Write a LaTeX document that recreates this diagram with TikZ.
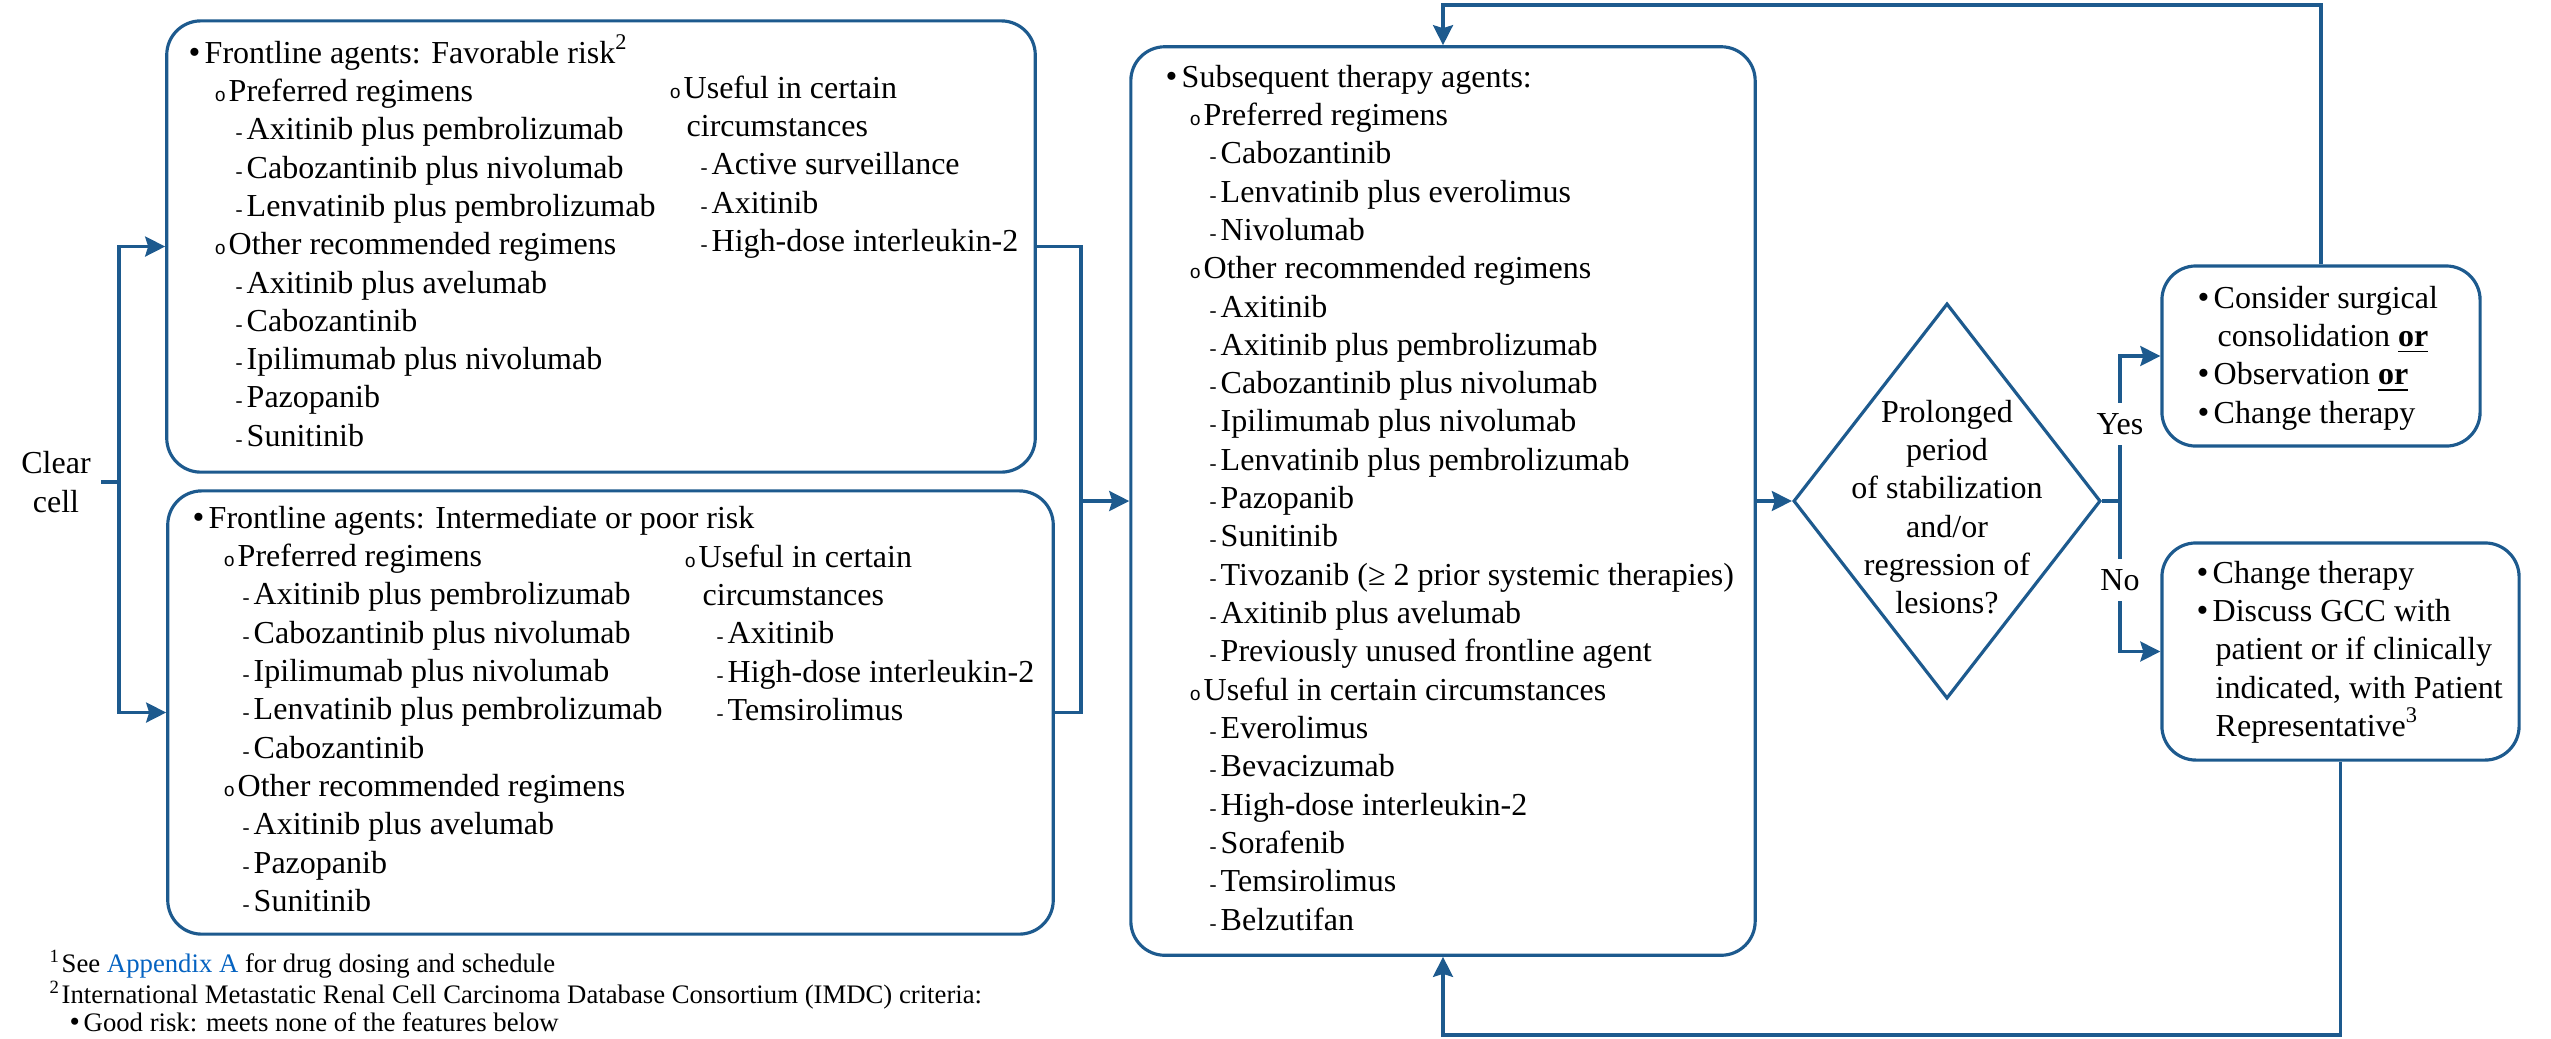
\documentclass[tikz,border=0pt]{standalone}
\usepackage{fontspec}
\setmainfont{Liberation Serif}
\newfontfamily\monofam{Liberation Mono}
\usetikzlibrary{arrows.meta,shapes.geometric}

\definecolor{flow}{HTML}{1D5A8E}
\definecolor{linkblue}{HTML}{0563C1}

% list markers for the three outline levels
\newcommand\bulA{\kern-0.01cm{\fontsize{9.6}{9.6}\selectfont •}}
\newcommand\bulB{{\monofam\fontsize{5.4}{5.4}\selectfont o}}
\newcommand\bulC{{\fontsize{6}{6}\selectfont -}}

% one outline row: optional indent, marker box, text
\newcommand\ptA[2][0cm]{\hspace*{#1}\makebox[0.15cm][l]{\bulA}#2}
\newcommand\ptB[2][0.27cm]{\hspace*{#1}\makebox[0.14cm][l]{\bulB}#2}
\newcommand\ptC[2][0.47cm]{\hspace*{#1}\makebox[0.11cm][l]{\bulC}#2}
\newcommand\ptN[2][0.41cm]{\hspace*{#1}#2}

% a column of outline rows, baseline at its first row
\newcommand\colbox[1]{\parbox[t]{9cm}{\fontsize{9.1}{10.9}\selectfont #1}}

\begin{document}
\begin{tikzpicture}[x=0.01cm, y=-0.01cm,
  font=\fontsize{9.1}{10.9}\selectfont,
  flowline/.style={draw=flow, line width=0.9pt},
  arr/.style={flowline, -{Stealth[length=0.2cm, width=0.2cm, inset=0.03cm]}},
  panel/.style={draw=flow, line width=0.9pt, rounded corners=0.34cm, inner sep=0},
  txt/.style={anchor=base west, inner sep=0}]

\useasboundingbox (0,0) rectangle (2551,1038);

% ---------- boxes ----------
\node[panel, minimum width=8.68cm, minimum height=4.51cm] (fav) at (601,246.5) {};
\node[panel, minimum width=8.85cm, minimum height=4.43cm] (poor) at (610.5,712.5) {};
\node[panel, minimum width=6.24cm, minimum height=9.08cm] (subs) at (1443,501) {};
\node[diamond, draw=flow, line width=0.9pt, inner sep=0,
      minimum width=3.07cm, minimum height=3.95cm] (dec) at (1947,501) {};
\node[panel, minimum width=3.18cm, minimum height=1.80cm] (yesbox) at (2321,356) {};
\node[panel, minimum width=3.57cm, minimum height=2.17cm] (nobox) at (2340.5,651.5) {};

\node[align=center, inner xsep=0.1cm, inner ysep=0] (clear) at (56,482) {Clear\\cell};

% ---------- box texts ----------
\node[txt] (favL) at (189,63) {\colbox{%
\ptA{Frontline agents: Favorable risk\textsuperscript{2}}\\
\ptB[0.25cm]{Preferred regimens}\\
\ptC[0.46cm]{Axitinib plus pembrolizumab}\\
\ptC[0.46cm]{Cabozantinib plus nivolumab}\\
\ptC[0.46cm]{Lenvatinib plus pembrolizumab}\\
\ptB[0.25cm]{Other recommended regimens}\\
\ptC[0.46cm]{Axitinib plus avelumab}\\
\ptC[0.46cm]{Cabozantinib}\\
\ptC[0.46cm]{Ipilimumab plus nivolumab}\\
\ptC[0.46cm]{Pazopanib}\\
\ptC[0.46cm]{Sunitinib}}};

\node[txt] (favR) at (669,98) {\colbox{%
\ptB[0cm]{Useful in certain}\\
\ptN[0.17cm]{circumstances}\\
\ptC[0.31cm]{Active surveillance}\\
\ptC[0.31cm]{Axitinib}\\
\ptC[0.31cm]{High-dose interleukin-2}}};

\node[txt] (poorL) at (193,528) {\colbox{%
\ptA{Frontline agents: Intermediate or poor risk}\\
\ptB[0.30cm]{Preferred regimens}\\
\ptC[0.49cm]{Axitinib plus pembrolizumab}\\
\ptC[0.49cm]{Cabozantinib plus nivolumab}\\
\ptC[0.49cm]{Ipilimumab plus nivolumab}\\
\ptC[0.49cm]{Lenvatinib plus pembrolizumab}\\
\ptC[0.49cm]{Cabozantinib}\\
\ptB[0.30cm]{Other recommended regimens}\\
\ptC[0.49cm]{Axitinib plus avelumab}\\
\ptC[0.49cm]{Pazopanib}\\
\ptC[0.49cm]{Sunitinib}}};

\node[txt] (poorR) at (684,567) {\colbox{%
\ptB[0cm]{Useful in certain}\\
\ptN[0.18cm]{circumstances}\\
\ptC[0.32cm]{Axitinib}\\
\ptC[0.32cm]{High-dose interleukin-2}\\
\ptC[0.32cm]{Temsirolimus}}};

\node[txt] (subsT) at (1166,87) {\colbox{%
\ptA{Subsequent therapy agents:}\\
\ptB[0.23cm]{Preferred regimens}\\
\ptC[0.43cm]{Cabozantinib}\\
\ptC[0.43cm]{Lenvatinib plus everolimus}\\
\ptC[0.43cm]{Nivolumab}\\
\ptB[0.23cm]{Other recommended regimens}\\
\ptC[0.43cm]{Axitinib}\\
\ptC[0.43cm]{Axitinib plus pembrolizumab}\\
\ptC[0.43cm]{Cabozantinib plus nivolumab}\\
\ptC[0.43cm]{Ipilimumab plus nivolumab}\\
\ptC[0.43cm]{Lenvatinib plus pembrolizumab}\\
\ptC[0.43cm]{Pazopanib}\\
\ptC[0.43cm]{Sunitinib}\\
\ptC[0.43cm]{Tivozanib (≥ 2 prior systemic therapies)}\\
\ptC[0.43cm]{Axitinib plus avelumab}\\
\ptC[0.43cm]{Previously unused frontline agent}\\
\ptB[0.23cm]{Useful in certain circumstances}\\
\ptC[0.43cm]{Everolimus}\\
\ptC[0.43cm]{Bevacizumab}\\
\ptC[0.43cm]{High-dose interleukin-2}\\
\ptC[0.43cm]{Sorafenib}\\
\ptC[0.43cm]{Temsirolimus}\\
\ptC[0.43cm]{Belzutifan}}};

\node[anchor=base, inner sep=0] (decT) at (1947,422) {\parbox[t]{3.2cm}{\centering
Prolonged\\period\\of stabilization\\and/or\\regression of\\lesions?}};

\node[txt] (yesT) at (2198,308) {\colbox{%
\ptA{Consider surgical}\\
\ptN[0.19cm]{consolidation \underline{\textbf{or}}}\\
\ptA{Observation \underline{\textbf{or}}}\\
\ptA{Change therapy}}};

\node[txt] (noT) at (2197,583) {\colbox{%
\ptA{Change therapy}\\
\ptA{Discuss GCC with}\\
\ptN[0.18cm]{patient or if clinically}\\
\ptN[0.18cm]{indicated, with Patient}\\
\ptN[0.18cm]{Representative\textsuperscript{3}}}};

% ---------- footnotes ----------
\node[txt] (notes) at (49,972) {\parbox[t]{14cm}{\fontsize{7.6}{7.97}\selectfont
\makebox[0.12cm][l]{\textsuperscript{1}}See \textcolor{linkblue}{Appendix A} for drug dosing and schedule\\
\makebox[0.12cm][l]{\textsuperscript{2}}International Metastatic Renal Cell Carcinoma Database Consortium (IMDC) criteria:\\
\hspace*{0.2cm}\makebox[0.14cm][l]{{\fontsize{8.4}{8.4}\selectfont •}}Good risk: meets none of the features below}};

% ---------- connectors ----------
\coordinate (split) at (119,482);
\draw[flowline] (clear.east) -- (split);
\draw[arr] (split) |- (fav.west);
\draw[arr] (split) |- (poor.west);

\coordinate (join) at (1081,501);
\draw[flowline] (fav.east) -| (join);
\draw[flowline] (poor.east) -| (join);
\draw[arr] (join) -- (subs.west);
\draw[arr] (subs.east) -- (dec.west);

\coordinate (fork) at (2120,501);
\draw[flowline] (dec.east) -- (fork);
\draw[arr] (fork) |- (yesbox.west);
\draw[arr] (fork) |- (nobox.west);
\node[fill=white, inner xsep=0pt, inner ysep=3pt] (yeslbl) at (2120,424) {Yes};
\node[fill=white, inner xsep=0pt, inner ysep=3pt] (nolbl) at (2120,580) {No};

\coordinate (topturn) at (1443,5);
\coordinate (botturn) at (1443,1035);
\draw[arr] (yesbox.north) |- (topturn) -- (subs.north);
\draw[arr] (nobox.south) |- (botturn) -- (subs.south);

\end{tikzpicture}
\end{document}
